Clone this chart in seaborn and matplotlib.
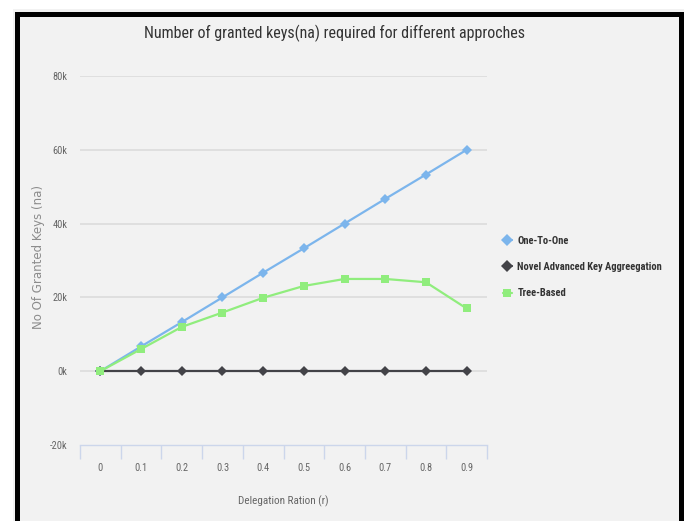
import matplotlib
matplotlib.use("Agg")
import matplotlib.pyplot as plt
from matplotlib.patches import Rectangle
from matplotlib.lines import Line2D
from matplotlib import font_manager
import seaborn as sns
import pandas as pd

# Data
ratios = ["0", "0.1", "0.2", "0.3", "0.4", "0.5", "0.6", "0.7", "0.8", "0.9"]
one_to_one = [0, 6700, 13300, 20000, 26700, 33300, 40000, 46700, 53300, 60000]
novel_aggregation = [0, 0, 0, 0, 0, 0, 0, 0, 0, 0]
tree_based = [0, 6000, 12000, 15900, 19900, 23100, 25000, 25000, 24100, 17000]
y_ticks = [-20000, 0, 20000, 40000, 60000, 80000]
y_tick_labels = ["-20k", "0k", "20k", "40k", "60k", "80k"]

series_names = ["One-To-One", "Novel Advanced Key Aggreegation", "Tree-Based"]
series_values = [one_to_one, novel_aggregation, tree_based]
colors = ["#7cb5ec", "#434348", "#90ed7d"]
markers = ["D", "D", "s"]

sns.set_theme(style="white")
installed = {f.name for f in font_manager.fontManager.ttflist}
preferred = ["Roboto Condensed", "Open Sans Condensed", "PT Sans Narrow",
             "Archivo Narrow", "Fira Sans Condensed", "Liberation Sans Narrow"]
narrow = [f for f in preferred if f in installed]
plt.rcParams["font.family"] = narrow[:1] + ["DejaVu Sans"]
condensed = bool(narrow)

W, H = 686, 521
fig = plt.figure(figsize=(W / 100, H / 100), dpi=100)
fig.patch.set_facecolor("white")

# panel background and thick frame
fig.add_artist(Rectangle((13 / W, -0.1), (684 - 13) / W, 1.1 - 9 / H,
                         transform=fig.transFigure, facecolor="#f2f2f2",
                         edgecolor="none", zorder=-2))
fig.add_artist(Rectangle((16.5 / W, -0.1), (681 - 16.5) / W, 1.1 - 13.5 / H,
                         transform=fig.transFigure, facecolor="none",
                         edgecolor="black", linewidth=3.6, zorder=10))

left, right = 80 / W, 487 / W
bottom, top = 1 - 445 / H, 1 - 76 / H
ax = fig.add_axes([left, bottom, right - left, top - bottom])
ax.set_facecolor("none")

pos = list(range(len(ratios)))
for name, vals, col, mk in zip(series_names, series_values, colors, markers):
    df = pd.DataFrame({"x": pos, "y": vals})
    sns.lineplot(data=df, x="x", y="y", ax=ax, color=col, marker=mk,
                 markersize=6 if mk == "s" else 5.5, markeredgewidth=0,
                 linewidth=1.6, legend=False, zorder=3)

ax.set_xlim(-0.5, len(ratios) - 0.5)
ax.set_ylim(-20000, 80000)

# horizontal grid
for v in y_ticks[1:]:
    ax.axhline(v, color="#dcdcdc", linewidth=1.2, zorder=1)

for s in ["top", "right", "left"]:
    ax.spines[s].set_visible(False)
ax.spines["bottom"].set_color("#ccd6eb")
ax.spines["bottom"].set_linewidth(1.0)

tick_size = 7.5 if condensed else 6.5
ax.set_yticks(y_ticks)
ax.set_yticklabels(y_tick_labels, fontsize=tick_size, color="#666666")
ax.tick_params(axis="y", length=0, pad=9)

ax.set_xticks(pos)
ax.set_xticklabels(ratios, fontsize=tick_size, color="#666666")
ax.tick_params(axis="x", which="major", length=0, pad=13)
ax.set_xticks([p - 0.5 for p in pos] + [len(ratios) - 0.5], minor=True)
ax.tick_params(axis="x", which="minor", length=10, width=1, color="#ccd6eb",
               direction="out", bottom=True)

ax.set_xlabel("Delegation Ration (r)", fontsize=8 if condensed else 7,
              color="#666666", labelpad=16)
ax.set_ylabel("No Of Granted Keys (na)", fontsize=8.5, color="#8c8c8c",
              family="DejaVu Sans")
ax.yaxis.set_label_coords(-0.085, 0.51)

fig.text(335 / W, 1 - 33 / H, "Number of granted keys(na) required for different approches",
         ha="center", va="center", fontsize=11.5 if condensed else 9, color="#333333")

handles = [Line2D([0], [0], color=c, marker=m, markersize=6, markeredgewidth=0,
                  linewidth=1.6) for c, m in zip(colors, markers)]
leg = fig.legend(handles, series_names, loc="upper left",
                 bbox_to_anchor=(493 / W, 1 - 226 / H), frameon=False,
                 handlelength=0.9, handletextpad=0.5, labelspacing=1.55,
                 prop={"size": 7.6 if condensed else 6, "weight": "bold"})
for t in leg.get_texts():
    t.set_color("#333333")

fig.savefig("out.png", dpi=100, facecolor=fig.get_facecolor())
